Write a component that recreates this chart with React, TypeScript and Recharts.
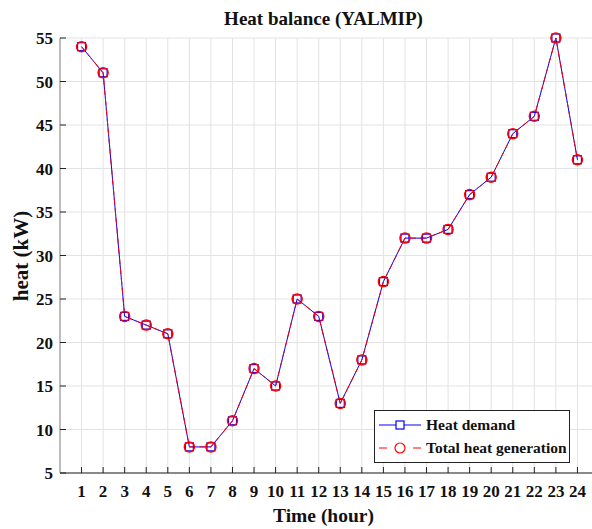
import { LineChart, Line, XAxis, YAxis, CartesianGrid } from "recharts";

const hours = [1, 2, 3, 4, 5, 6, 7, 8, 9, 10, 11, 12, 13, 14, 15, 16, 17, 18, 19, 20, 21, 22, 23, 24];
const heatDemand = [54, 51, 23, 22, 21, 8, 8, 11, 17, 15, 25, 23, 13, 18, 27, 32, 32, 33, 37, 39, 44, 46, 55, 41];
const totalGeneration = [54, 51, 23, 22, 21, 8, 8, 11, 17, 15, 25, 23, 13, 18, 27, 32, 32, 33, 37, 39, 44, 46, 55, 41];
const yTicks = [5, 10, 15, 20, 25, 30, 35, 40, 45, 50, 55];

const data = hours.map((h, i) => ({
  hour: h,
  demand: heatDemand[i],
  generation: totalGeneration[i],
}));

const FONT = "'Liberation Serif', 'Times New Roman', serif";

function SquareDot(props: any) {
  const { cx, cy, index } = props;
  if (cx == null || cy == null) return null;
  return (
    <rect key={index} x={cx - 4} y={cy - 4} width={8} height={8} fill="none" stroke="#0000ff" strokeWidth={1.2} />
  );
}

function CircleDot(props: any) {
  const { cx, cy, index } = props;
  if (cx == null || cy == null) return null;
  return <circle key={index} cx={cx} cy={cy} r={5} fill="none" stroke="#ff0000" strokeWidth={1.5} />;
}

function LegendBox() {
  return (
    <div
      style={{
        position: "absolute",
        left: 374,
        top: 410,
        width: 196,
        height: 53,
        border: "1px solid #222",
        background: "#fff",
        fontFamily: FONT,
        fontWeight: "bold",
        fontSize: 15.5,
        color: "#111",
        boxSizing: "border-box",
        padding: "3px 0 0 4px",
        whiteSpace: "nowrap",
      }}
    >
      <div style={{ display: "flex", alignItems: "center", height: 22 }}>
        <svg width={44} height={12}>
          <line x1={0} y1={6} x2={42} y2={6} stroke="#0000ff" strokeWidth={1} />
          <rect x={17} y={2} width={8} height={8} fill="#fff" stroke="#0000ff" strokeWidth={1.2} />
        </svg>
        <span style={{ marginLeft: 3 }}>Heat demand</span>
      </div>
      <div style={{ display: "flex", alignItems: "center", height: 23 }}>
        <svg width={44} height={12}>
          <line x1={0} y1={6} x2={42} y2={6} stroke="#ff0000" strokeWidth={1} strokeDasharray="8 9" />
          <circle cx={21} cy={6} r={5} fill="#fff" stroke="#ff0000" strokeWidth={1.2} />
        </svg>
        <span style={{ marginLeft: 3 }}>Total heat generation</span>
      </div>
    </div>
  );
}

export default function App() {
  return (
    <div style={{ position: "absolute", left: 0, top: 0, width: 592, height: 529, overflow: "hidden", background: "#fff" }}>
      <LineChart width={600} height={529} data={data} margin={{ top: 38, right: 1, left: 0, bottom: 0 }}>
        <CartesianGrid stroke="#e3e3e3" strokeWidth={1} />
        <XAxis
          dataKey="hour"
          type="number"
          domain={[0, 25]}
          ticks={hours}
          interval={0}
          height={56}
          tickSize={-6}
          tickMargin={18}
          axisLine={{ stroke: "#222" }}
          tickLine={{ stroke: "#222" }}
          tick={{ fontFamily: FONT, fontWeight: "bold", fontSize: 17, fill: "#111" }}
        />
        <XAxis
          xAxisId="top"
          dataKey="hour"
          type="number"
          orientation="top"
          domain={[0, 25]}
          ticks={hours}
          interval={0}
          height={0}
          tickSize={-6}
          tick={false}
          axisLine={{ stroke: "#222" }}
          tickLine={{ stroke: "#222" }}
        />
        <YAxis
          type="number"
          domain={[5, 55]}
          ticks={yTicks}
          interval={0}
          width={60}
          tickSize={-6}
          tickMargin={13}
          axisLine={{ stroke: "#888" }}
          tickLine={{ stroke: "#222" }}
          tick={{ fontFamily: FONT, fontWeight: "bold", fontSize: 17, fill: "#111" }}
        />
        <Line
          dataKey="demand"
          stroke="#0000ff"
          strokeWidth={1}
          dot={<SquareDot />}
          activeDot={false}
          isAnimationActive={false}
        />
        <Line
          dataKey="generation"
          stroke="#ff0000"
          strokeWidth={1}
          strokeDasharray="6 4"
          dot={<CircleDot />}
          activeDot={false}
          isAnimationActive={false}
        />
      </LineChart>
      <LegendBox />
      <div
        style={{
          position: "absolute",
          left: 60,
          width: 527,
          top: 8,
          textAlign: "center",
          fontFamily: FONT,
          fontWeight: "bold",
          fontSize: 19,
          color: "#111",
        }}
      >
        Heat balance (YALMIP)
      </div>
      <div
        style={{
          position: "absolute",
          left: 60,
          width: 527,
          top: 505,
          textAlign: "center",
          fontFamily: FONT,
          fontWeight: "bold",
          fontSize: 19.5,
          color: "#111",
        }}
      >
        Time (hour)
      </div>
      <div
        style={{
          position: "absolute",
          left: 21,
          top: 256,
          transform: "translate(-50%, -50%) rotate(-90deg)",
          whiteSpace: "nowrap",
          fontFamily: FONT,
          fontWeight: "bold",
          fontSize: 21,
          color: "#111",
        }}
      >
        heat (kW)
      </div>
    </div>
  );
}
